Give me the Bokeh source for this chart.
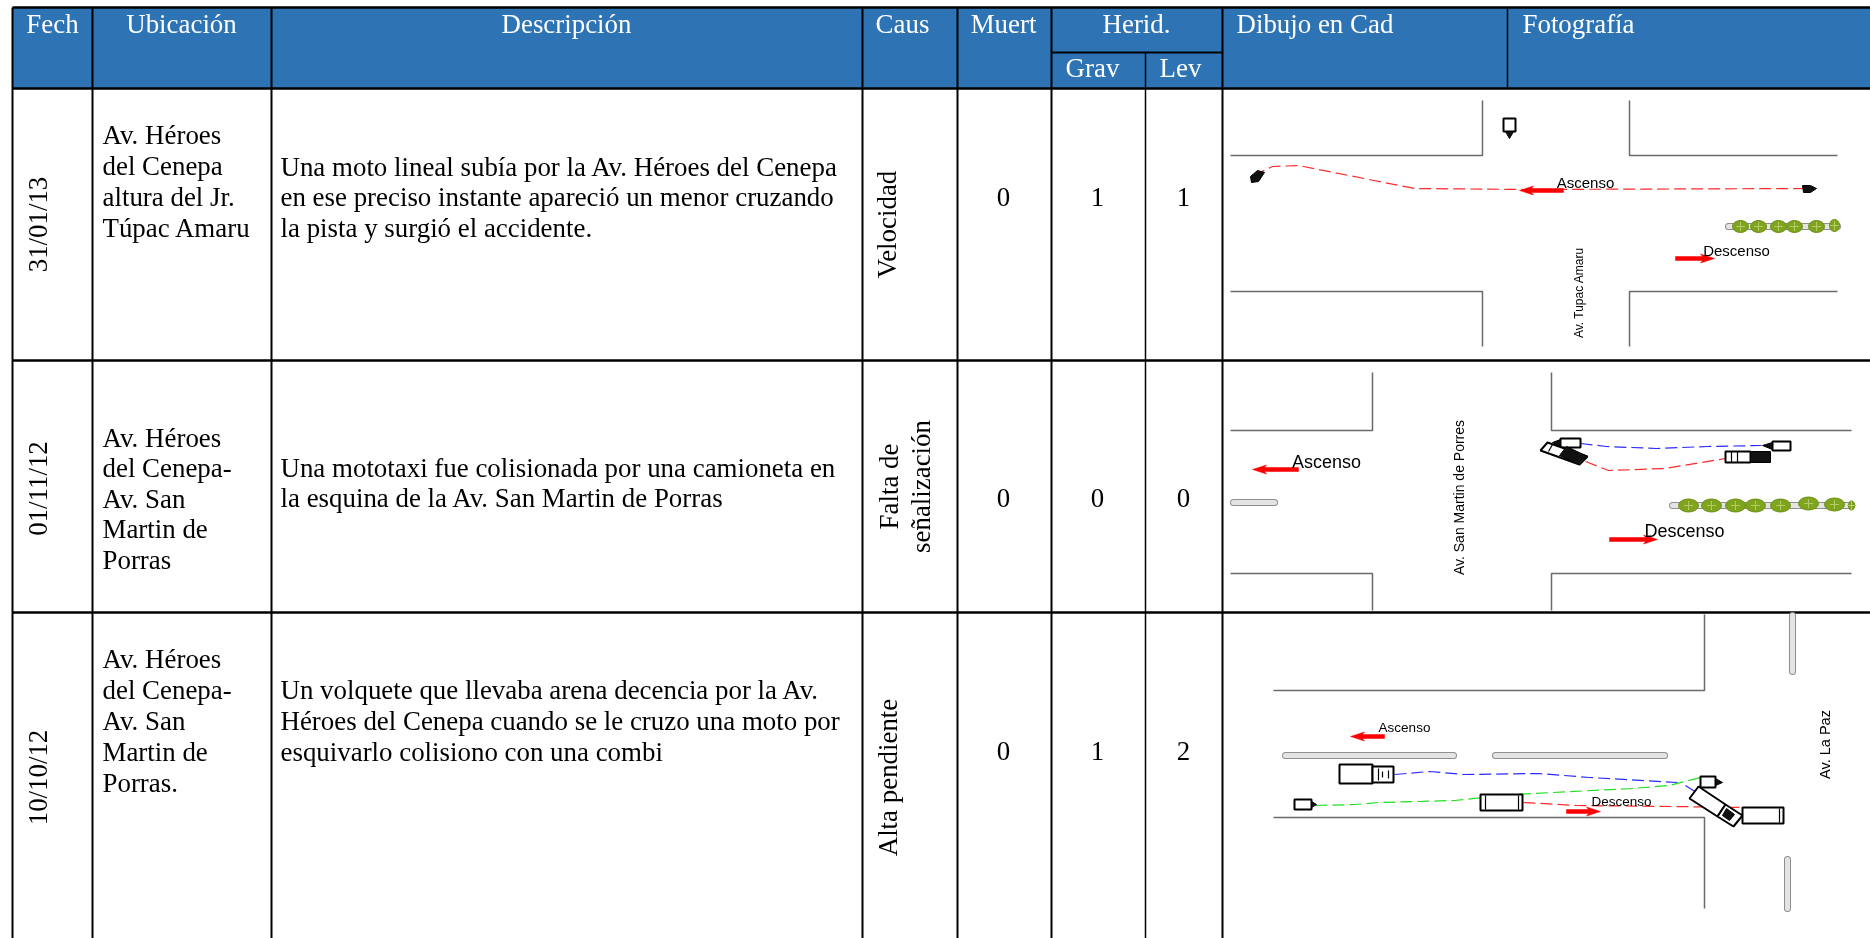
from math import pi
from bokeh.plotting import figure
from bokeh.embed import file_html
from bokeh.resources import INLINE
from bokeh.core.properties import value

SERIF = "Liberation Serif"
CAD = "Liberation Sans"
BLUE = "#2E74B5"
ROAD = "#6a6a6a"
TREE = "#7FA51E"

# ---- table contents
fechas = ["31/01/13", "01/11/12", "10/10/12"]
ubicaciones = [
    ["Av. Héroes", "del Cenepa", "altura del Jr.", "Túpac Amaru"],
    ["Av. Héroes", "del Cenepa-", "Av. San", "Martin de", "Porras"],
    ["Av. Héroes", "del Cenepa-", "Av. San", "Martin de", "Porras."],
]
descripciones = [
    ["Una moto lineal subía por la Av. Héroes del Cenepa",
     "en ese preciso instante apareció un menor cruzando",
     "la pista y surgió el accidente."],
    ["Una mototaxi  fue colisionada por una camioneta en",
     "la esquina de la Av. San Martin de Porras"],
    ["Un volquete que llevaba arena decencia por la Av.",
     "Héroes del Cenepa cuando se le cruzo una moto por",
     "esquivarlo colisiono con una combi"],
]
causas = [["Velocidad"], ["Falta de", "señalización"], ["Alta pendiente"]]
muertos = [0, 0, 0]
graves = [1, 0, 1]
leves = [1, 0, 2]
encabezados = ["Fech", "Ubicación", "Descripción", "Caus", "Muert", "Herid."]
encabezados_x = [52, 181, 566, 902, 1003, 1136]
sub_encabezados = ["Grav", "Lev"]
sub_encabezados_x = [1092, 1180]
encabezados_izq = ["Dibujo en Cad", "Fotografía"]
encabezados_izq_x = [1236, 1522]

# ---- grid
col_edges = [92, 271, 862, 957, 1051, 1222]
row_edges = [88, 360, 612]
ubic_y = [[134, 165, 196, 227], [437, 467, 498, 528, 559], [658, 689, 720, 751, 782]]
desc_y = [[166, 196, 227], [467, 497], [689, 720, 751]]
fecha_y = [224, 488, 777]
causa_pos = [[(886, 224)], [(888, 486), (920, 486)], [(887, 777)]]
num_y = [196, 497, 750]

# ---- sketches (sheet pixels)
caminos = [
    [(1230, 155), (1482, 155), (1482, 100)],
    [(1629, 100), (1629, 155), (1837, 155)],
    [(1230, 291), (1482, 291), (1482, 346)],
    [(1629, 346), (1629, 291), (1837, 291)],
    [(1230, 430), (1372, 430), (1372, 372)],
    [(1551, 372), (1551, 430), (1851, 430)],
    [(1230, 573), (1372, 573), (1372, 610)],
    [(1551, 610), (1551, 573), (1851, 573)],
    [(1273, 690), (1704, 690), (1704, 614)],
    [(1273, 817), (1704, 817), (1704, 908)],
]
medianas = [
    [(1728, 226), (1837, 226)],
    [(1233, 502), (1274, 502)],
    [(1672, 505), (1851, 505)],
    [(1285, 755), (1453, 755)],
    [(1495, 755), (1664, 755)],
    [(1792, 615), (1792, 671)],
    [(1787, 859), (1787, 908)],
]
arboles_x = [1740, 1758, 1778, 1794, 1816, 1834,
             1688, 1711, 1735, 1755, 1780, 1808, 1834, 1851]
arboles_y = [226, 226, 226, 226, 226, 225,
             505, 505, 505, 505, 505, 503, 504, 505]
arboles_w = [16, 16, 16, 16, 16, 10, 20, 20, 20, 20, 20, 20, 20, 6]
arboles_h = [12, 12, 12, 12, 12, 12, 13, 13, 13, 13, 13, 13, 13, 9]
tray_rojas = [
    [(1253, 175), (1272, 166), (1298, 165), (1414, 188), (1524, 189), (1807, 188)],
    [(1585, 461), (1608, 470), (1664, 468), (1725, 458)],
    [(1523, 802), (1576, 805), (1673, 806), (1742, 807)],
]
tray_azules = [
    [(1580, 443), (1606, 446), (1656, 448), (1707, 446), (1761, 445)],
    [(1394, 774), (1429, 771), (1463, 774), (1538, 773), (1589, 777), (1677, 782)],
    [(1685, 785), (1696, 792)],
]
tray_verdes = [
    [(1315, 805), (1355, 804), (1378, 802), (1454, 800), (1513, 794), (1631, 788),
     (1669, 785), (1700, 777)],
]
flechas_izq = [(1519, 1563, 190), (1252, 1298, 469), (1350, 1384, 736)]
flechas_der = [(1675, 1714, 258), (1609, 1657, 539), (1566, 1600, 811)]
etiquetas = ["Ascenso", "Descenso", "Ascenso", "Descenso", "Ascenso", "Descenso"]
etiquetas_x = [1585, 1736, 1326, 1684, 1404, 1621]
etiquetas_y = [182, 250, 461, 530, 727, 801]
etiquetas_px = [15, 15, 18, 18, 13.5, 13.5]
vias = ["Av. Tupac Amaru", "Av. San Martin de Porres", "Av. La Paz"]
vias_x = [1578, 1458, 1824]
vias_y = [292, 497, 744]
vias_px = [12, 14, 14.5]

# vehicles: outline polygons (white fill), dark polygons (black fill)
carros_blancos = [
    [(1503, 118), (1515, 118), (1515, 131), (1503, 131)],
    [(1560, 438), (1580, 438), (1580, 447), (1560, 447)],
    [(1772, 441), (1790, 441), (1790, 450), (1772, 450)],
    [(1725, 451), (1750, 451), (1750, 462), (1725, 462)],
    [(1547, 442), (1587, 456), (1579, 464), (1540, 450)],
    [(1339, 764), (1372, 764), (1372, 783), (1339, 783)],
    [(1372, 766), (1393, 766), (1393, 782), (1372, 782)],
    [(1294, 799), (1311, 799), (1311, 809), (1294, 809)],
    [(1480, 794), (1522, 794), (1522, 810), (1480, 810)],
    [(1742, 807), (1783, 807), (1783, 823), (1742, 823)],
    [(1700, 776), (1715, 776), (1715, 787), (1700, 787)],
    [(1698, 786), (1725, 804), (1717, 816), (1689, 798)],
    [(1725, 804), (1742, 815), (1733, 826), (1717, 816)],
]
carros_negros = [
    [(1505, 131), (1513, 131), (1509, 138)],
    [(1250, 176), (1257, 170), (1264, 172), (1258, 181), (1251, 182)],
    [(1802, 185), (1810, 185), (1816, 188), (1810, 192), (1803, 192)],
    [(1560, 439), (1552, 442), (1560, 446)],
    [(1772, 442), (1762, 445), (1772, 449)],
    [(1750, 451), (1770, 451), (1770, 462), (1750, 462)],
    [(1566, 446), (1587, 456), (1579, 464), (1559, 455)],
    [(1311, 801), (1316, 804), (1311, 807)],
    [(1715, 778), (1722, 782), (1715, 785)],
    [(1726, 808), (1734, 814), (1729, 820), (1722, 815)],
]
detalles = [
    [(1731, 451), (1731, 462)], [(1737, 451), (1737, 462)],
    [(1378, 768), (1378, 780)], [(1388, 770), (1388, 778)], [(1382, 771), (1382, 777)],
    [(1518, 795), (1518, 809)], [(1485, 795), (1485, 809)],
    [(1779, 808), (1779, 822)], [(1552, 444), (1548, 451)],
]


def xs_ys(polys):
    return [[a for a, _ in q] for q in polys], [[b for _, b in q] for q in polys]


p = figure(width=1870, height=938, x_range=(0, 1870), y_range=(938, 0),
           toolbar_location=None, output_backend="svg", min_border=0)
p.axis.visible = False
p.grid.visible = False
p.outline_line_color = None
p.background_fill_color = "white"
p.border_fill_color = "white"
p.styles = {"position": "fixed", "left": "0px", "top": "0px"}

# header band
p.quad(left=[12], right=[1870], top=[7], bottom=[row_edges[0]], fill_color=BLUE, line_color=None)

# grid lines
p.multi_line(xs=[[x, x] for x in [12] + col_edges], ys=[[7, 938]] * (len(col_edges) + 1),
             line_color="black", line_width=2)
p.multi_line(xs=[[1145, 1145], [1507, 1507]], ys=[[52, 938], [7, 88]], line_color="black", line_width=1.5)
p.multi_line(xs=[[12, 1870]] * 4, ys=[[7, 7]] + [[y, y] for y in row_edges],
             line_color="black", line_width=2.5)
p.line([1051, 1222], [52, 52], line_color="black", line_width=2)


def txt(xs, ys, ss, size=26.9, color="black", align="left", angle=0.0, font=SERIF):
    p.text(x=xs, y=ys, text=ss, text_font=value(font), text_font_size=f"{size}px",
           text_color=color, text_align=align, text_baseline="middle", angle=angle)


# header text
txt(encabezados_x, [23] * len(encabezados), encabezados, color="white", align="center")
txt(sub_encabezados_x, [67, 67], sub_encabezados, color="white", align="center")
txt(encabezados_izq_x, [23, 23], encabezados_izq, color="white")

# body text
for i in range(3):
    txt([102] * len(ubicaciones[i]), ubic_y[i], ubicaciones[i])
    txt([280] * len(descripciones[i]), desc_y[i], descripciones[i])
    txt([37], [fecha_y[i]], [fechas[i]], align="center", angle=pi / 2)
    txt([q[0] for q in causa_pos[i]], [q[1] for q in causa_pos[i]], causas[i], align="center", angle=pi / 2)
    txt([1003, 1097, 1183], [num_y[i]] * 3, [str(muertos[i]), str(graves[i]), str(leves[i])], align="center")

# sketches
x, y = xs_ys(medianas)
p.multi_line(x, y, line_color="#8f8f8f", line_width=7, line_cap="round")
p.multi_line(x, y, line_color="#e4e4e4", line_width=5, line_cap="round")
x, y = xs_ys(caminos)
p.multi_line(x, y, line_color=ROAD, line_width=1.5)
p.ellipse(x=arboles_x, y=arboles_y, width=arboles_w, height=arboles_h, fill_color=TREE, line_color="#6b8e12", line_width=1)
p.scatter(x=arboles_x, y=arboles_y, marker="cross", size=9, line_color="#b4cb66", line_width=1)
for tr, col in ((tray_rojas, "#ff2a2a"), (tray_azules, "#2a2aff"), (tray_verdes, "#22e022")):
    x, y = xs_ys(tr)
    p.multi_line(x, y, line_color=col, line_width=1.2, line_dash="12 5")
x, y = xs_ys(carros_blancos)
p.patches(x, y, fill_color="white", line_color="black", line_width=2)
x, y = xs_ys(carros_negros)
p.patches(x, y, fill_color="#111111", line_color="black", line_width=1)
x, y = xs_ys(detalles)
p.multi_line(x, y, line_color="black", line_width=1.2)

fl_x = [[a, a + 14, a + 12, b, b, a + 12, a + 14] for a, b, _ in flechas_izq] + \
       [[b, b - 14, b - 12, a, a, b - 12, b - 14] for a, b, _ in flechas_der]
fl_y = [[c, c - 4.5, c - 2, c - 2, c + 2, c + 2, c + 4.5] for _, _, c in flechas_izq + flechas_der]
p.patches(fl_x, fl_y, fill_color="#ff0000", line_color="#ff0000", line_width=0.5)

for xx, yy, ss, px in zip(etiquetas_x, etiquetas_y, etiquetas, etiquetas_px):
    txt([xx], [yy], [ss], size=px, align="center", font=CAD)
for xx, yy, ss, px in zip(vias_x, vias_y, vias, vias_px):
    txt([xx], [yy], [ss], size=px, align="center", angle=pi / 2, font=CAD)

open("out.html", "w").write(file_html(p, INLINE))
